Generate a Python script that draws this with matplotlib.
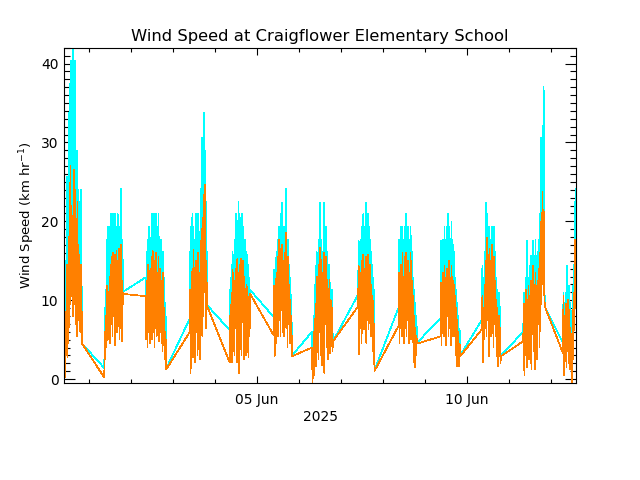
import numpy as np
import matplotlib
matplotlib.use("Agg")
import matplotlib.pyplot as plt
import matplotlib.dates as mdates

# logging blocks (local time), samples every 20 min
block_starts = ["2025-05-31T10:00", "2025-06-01T09:00", "2025-06-02T08:40",
                "2025-06-03T09:40", "2025-06-04T08:40", "2025-06-05T09:40",
                "2025-06-06T07:40", "2025-06-07T10:00", "2025-06-08T09:00",
                "2025-06-09T09:00", "2025-06-10T08:40", "2025-06-11T08:20",
                "2025-06-12T07:00"]
step_min = 20

mean_b1 = [1.5, 4.2, 0.3, 8.5, 3.0, 14.5, 2.8, 9.0, 6.5, 18.0, 9.5, 27.0, 10.5, 22.0, 12.0, 17.5,
           8.0, 26.5, 9.5, 24.0, 7.0, 15.5, 5.5, 22.5, 9.0, 17.0, 7.5, 14.0, 6.0, 14.5, 10.0, 4.5]
gust_b1 = [4.5, 9.0, 3.0, 15.0, 6.0, 25.7, 8.0, 16.0, 12.0, 33.8, 16.5, 40.3, 20.0, 40.3, 22.0, 42.0,
           18.0, 40.3, 15.0, 40.3, 14.0, 28.9, 12.0, 29.0, 15.0, 24.0, 12.0, 22.0, 10.0, 24.0, 14.0, 4.5]

mean_b2 = [0.2, 6.0, 2.5, 8.0, 4.1, 11.8, 5.0, 10.5, 6.5, 13.0, 4.5, 14.5, 7.0, 15.5, 5.5, 16.0, 8.0,
           14.0, 4.3, 15.8, 7.5, 16.2, 6.0, 15.0, 9.0, 16.5, 5.0, 14.8, 6.5, 17.0, 4.8, 12.5, 9.5, 10.8]
gust_b2 = [1.4, 9.0, 5.0, 11.3, 8.0, 17.7, 9.5, 19.3, 11.0, 19.3, 9.0, 20.9, 11.3, 20.9, 12.9, 19.3, 11.3,
           20.9, 9.7, 20.9, 12.9, 19.3, 11.3, 20.9, 14.5, 19.3, 9.7, 17.7, 11.3, 24.1, 9.7, 17.7, 12.9, 11.1]

mean_b3 = [10.5, 5.0, 12.5, 4.1, 14.5, 6.0, 13.0, 4.5, 14.0, 7.0, 15.5, 5.0, 16.2, 8.5, 15.0, 4.1, 14.5, 6.5,
           16.0, 5.5, 13.5, 9.0, 15.5, 4.8, 14.0, 6.0, 12.5, 4.5, 11.0, 3.5, 13.5, 5.0, 9.0, 2.5, 6.0, 1.2]
gust_b3 = [12.9, 8.0, 16.1, 7.0, 17.7, 9.7, 19.3, 8.0, 17.7, 11.3, 20.9, 9.7, 20.9, 12.9, 20.9, 8.0, 19.3, 11.3,
           20.9, 9.7, 19.3, 12.9, 20.9, 8.0, 17.7, 11.3, 17.7, 8.0, 16.1, 6.4, 16.1, 8.0, 12.9, 4.8, 9.7, 1.3]

mean_b4 = [5.9, 11.3, 0.8, 9.5, 4.0, 14.0, 2.8, 16.4, 5.5, 12.6, 2.1, 15.0, 6.0, 14.5, 3.0, 16.0,
           5.0, 13.5, 2.5, 17.5, 7.0, 19.0, 5.5, 20.5, 8.0, 23.3, 11.0, 24.6, 6.5, 15.0, 9.3]
gust_b4 = [7.6, 16.1, 4.8, 19.3, 9.7, 20.9, 6.4, 19.3, 11.3, 17.7, 6.4, 20.9, 9.7, 19.3, 8.0, 20.9,
           9.7, 17.7, 8.0, 24.1, 11.3, 30.6, 12.9, 27.4, 14.5, 33.8, 17.7, 29.0, 12.9, 22.5, 9.4]

mean_b5 = [2.1, 8.0, 3.5, 11.0, 2.1, 13.9, 5.0, 10.5, 3.0, 12.5, 6.5, 14.0, 2.1, 15.2, 7.0, 13.5, 0.8, 14.5,
           5.5, 15.2, 3.0, 12.0, 7.5, 15.0, 2.5, 13.0, 5.0, 11.5, 3.0, 12.0, 4.0, 10.5, 2.8, 9.0, 5.5, 10.8]
gust_b5 = [6.2, 11.3, 6.4, 14.5, 4.8, 16.1, 8.0, 14.5, 6.4, 17.7, 9.7, 20.9, 6.4, 19.3, 11.3, 22.5, 4.8, 20.9,
           9.7, 19.3, 8.0, 20.9, 11.3, 19.3, 6.4, 17.7, 9.7, 17.7, 6.4, 16.1, 8.0, 14.5, 6.4, 12.9, 8.0, 11.3]

mean_b6 = [5.6, 11.8, 2.9, 10.0, 4.5, 13.5, 6.0, 15.5, 5.4, 17.7, 8.0, 14.5, 5.4, 16.5, 9.5, 17.0, 6.0,
           15.0, 5.4, 16.0, 8.5, 18.6, 6.5, 14.0, 4.1, 15.5, 7.0, 12.0, 4.5, 10.0, 5.5, 6.0, 2.9]
gust_b6 = [7.9, 13.9, 6.4, 12.9, 8.0, 16.1, 9.7, 17.7, 8.0, 19.3, 11.3, 17.7, 9.7, 20.9, 12.9, 22.4, 9.7,
           19.3, 8.0, 19.3, 11.3, 24.1, 9.7, 17.7, 6.4, 17.7, 9.7, 14.5, 6.4, 12.9, 8.0, 8.0, 3.0]

mean_b7 = [4.0, -0.5, 3.5, 0.5, 6.0, 2.0, 9.5, 1.6, 13.0, 4.5, 11.0, 2.5, 14.5, 6.0, 16.6, 3.0, 15.1, 1.8, 13.5,
           5.5, 16.0, 0.8, 14.0, 7.0, 15.5, 4.0, 12.6, 2.5, 11.5, 5.0, 12.6, 3.3, 10.0, 6.5, 9.0, 3.5, 4.8]
gust_b7 = [6.0, 1.6, 6.0, 3.2, 8.0, 4.8, 14.3, 6.4, 16.1, 8.0, 14.5, 6.4, 17.7, 11.3, 22.4, 8.0, 17.7, 6.4, 16.1,
           9.7, 22.4, 4.8, 17.7, 11.3, 19.3, 8.0, 16.1, 6.4, 14.5, 9.7, 14.5, 6.4, 11.3, 9.7, 11.3, 6.4, 4.8]

mean_b8 = [9.2, 14.3, 3.1, 12.0, 6.5, 13.5, 4.6, 15.0, 7.0, 15.8, 6.3, 14.0, 8.5, 15.5, 4.6,
           14.5, 7.5, 15.8, 6.3, 13.0, 9.0, 14.5, 5.5, 12.0, 6.5, 10.0, 3.5, 7.0, 1.0]
gust_b8 = [10.7, 17.5, 6.4, 16.1, 9.7, 17.7, 8.0, 19.3, 11.3, 20.9, 9.7, 19.3, 11.3, 22.4, 8.0,
           20.9, 11.3, 20.9, 9.7, 19.3, 12.9, 17.7, 8.0, 16.1, 9.7, 12.9, 6.4, 11.3, 1.1]

mean_b9 = [6.7, 13.5, 4.6, 12.0, 7.0, 14.5, 5.4, 16.0, 8.0, 13.0, 4.6, 15.5, 6.5, 16.0, 5.4, 14.0, 9.0,
           15.0, 4.6, 13.5, 7.5, 16.0, 5.0, 12.5, 6.0, 10.5, 2.1, 8.0, 1.5, 6.5, 3.0, 5.5, 4.5]
gust_b9 = [9.0, 17.7, 8.0, 16.1, 9.7, 19.3, 8.0, 19.3, 11.3, 17.7, 8.0, 19.3, 9.7, 20.9, 8.0, 17.7, 11.3,
           19.3, 8.0, 17.7, 9.7, 19.3, 8.0, 16.1, 9.7, 12.9, 4.8, 11.3, 3.2, 9.7, 4.8, 8.0, 4.6]

mean_b10 = [5.4, 12.2, 4.3, 11.0, 6.5, 13.5, 5.4, 14.3, 7.0, 12.8, 4.3, 14.0, 8.0, 13.5, 5.4, 15.0, 6.5, 12.8,
            4.3, 14.3, 7.5, 13.0, 5.4, 12.0, 6.0, 10.5, 3.0, 9.0, 1.6, 7.5, 4.0, 6.0, 1.6, 4.5, 2.9]
gust_b10 = [7.7, 17.5, 6.4, 16.1, 9.7, 17.7, 8.0, 19.3, 11.3, 17.7, 8.0, 19.3, 11.3, 20.9, 8.0, 19.3, 9.7, 17.7,
            8.0, 19.9, 11.3, 17.7, 8.0, 16.1, 9.7, 12.9, 6.4, 11.3, 3.2, 9.7, 6.4, 8.0, 3.2, 6.4, 3.0]

mean_b11 = [6.3, 10.5, 2.2, 9.0, 5.0, 12.0, 6.5, 15.0, 5.4, 17.9, 7.5, 14.5, 2.9, 16.5, 8.0, 15.0, 5.4,
            17.0, 6.5, 13.5, 4.0, 15.5, 7.0, 12.5, 5.4, 10.0, 2.9, 9.0, 1.6, 8.0, 3.5, 6.5, 2.0, 2.9]
gust_b11 = [7.5, 14.3, 4.8, 12.9, 8.0, 16.1, 9.7, 22.4, 9.7, 20.9, 11.3, 19.3, 6.4, 19.3, 12.9, 17.7, 9.7,
            19.3, 11.3, 17.7, 8.0, 19.3, 11.3, 16.1, 8.0, 12.9, 6.4, 11.3, 3.2, 11.0, 6.4, 9.2, 3.2, 3.0]

mean_b12 = [4.8, 9.5, 0.5, 7.0, 3.0, 11.3, 1.5, 9.5, 4.0, 11.8, 2.5, 10.5, 5.5, 12.5, 1.2, 11.0, 6.0, 14.3, 3.5,
            12.0, 1.2, 13.5, 5.0, 11.8, 2.5, 12.5, 7.0, 14.0, 4.0, 16.0, 9.5, 20.0, 12.0, 23.8, 15.0, 21.5, 11.0, 9.2]
gust_b12 = [6.0, 11.0, 3.2, 9.7, 6.4, 12.9, 4.8, 17.5, 6.4, 12.9, 4.8, 14.3, 8.0, 15.6, 3.2, 14.3, 9.7, 17.5, 6.4,
            15.6, 3.2, 17.7, 8.0, 15.6, 6.4, 16.1, 9.7, 17.7, 8.0, 20.9, 12.9, 30.6, 16.1, 32.1, 19.3, 37.1, 14.5, 9.2]

mean_b13 = [3.3, 10.5, 0.5, 8.0, 4.0, 9.5, 1.5, 7.0, 3.5, 10.0, 2.0, 8.8,
            1.2, 6.5, 3.0, -0.5, 5.0, 8.8, 2.5, 11.0, 7.5, 17.7, 9.0, 17.0]
gust_b13 = [4.6, 11.0, 3.2, 9.7, 6.4, 11.0, 4.8, 14.3, 6.4, 11.3, 4.8, 11.8,
            3.2, 9.7, 6.4, 1.6, 8.0, 11.8, 6.4, 14.5, 11.3, 22.5, 16.1, 24.1]

mean_blocks = [mean_b1, mean_b2, mean_b3, mean_b4, mean_b5, mean_b6, mean_b7,
               mean_b8, mean_b9, mean_b10, mean_b11, mean_b12, mean_b13]
gust_blocks = [gust_b1, gust_b2, gust_b3, gust_b4, gust_b5, gust_b6, gust_b7,
               gust_b8, gust_b9, gust_b10, gust_b11, gust_b12, gust_b13]

times = []
for start, blk in zip(block_starts, mean_blocks):
    t0 = np.datetime64(start)
    times.append(t0 + np.arange(len(blk)) * np.timedelta64(step_min, "m"))
times = np.concatenate(times)
wspd = np.concatenate([np.array(b, dtype=float) for b in mean_blocks])
gust = np.concatenate([np.array(b, dtype=float) for b in gust_blocks])

fig = plt.figure(figsize=(6.4, 4.8), dpi=100)
ax = fig.add_axes([0.1, 0.202, 0.8005, 0.6985])

ax.plot(times, gust, color="#00ffff", lw=0.5, antialiased=False)
ax.plot(times, wspd, color="#ff8000", lw=0.5, antialiased=False)

ax.set_xlim(times[0], times[-1])
ax.set_ylim(min(wspd.min(), gust.min()), max(wspd.max(), gust.max()))

ax.xaxis.set_major_locator(mdates.DayLocator(bymonthday=[5, 10]))
ax.xaxis.set_major_formatter(mdates.DateFormatter("%d %b"))
ax.xaxis.set_minor_locator(mdates.DayLocator())
ax.set_yticks([0, 10, 20, 30, 40])
ax.yaxis.set_minor_locator(matplotlib.ticker.MultipleLocator(1))

ax.tick_params(which="both", direction="in", top=True, right=True, width=0.8,
               labelsize=10, colors="black")
ax.tick_params(axis="x", which="major", length=4.7, pad=7)
ax.tick_params(axis="x", which="minor", length=2.9)
ax.tick_params(axis="y", which="major", length=7.6, pad=4)
ax.tick_params(axis="y", which="minor", length=4.3)
for s in ax.spines.values():
    s.set_linewidth(0.8)

ax.set_title("Wind Speed at Craigflower Elementary School", fontsize=11.75, pad=5)
ax.set_ylabel("Wind Speed (km hr$^{-1}$)", fontsize=9.5, labelpad=3)
ax.set_xlabel("2025", fontsize=10, labelpad=2)

fig.savefig("out.png", dpi=100)
